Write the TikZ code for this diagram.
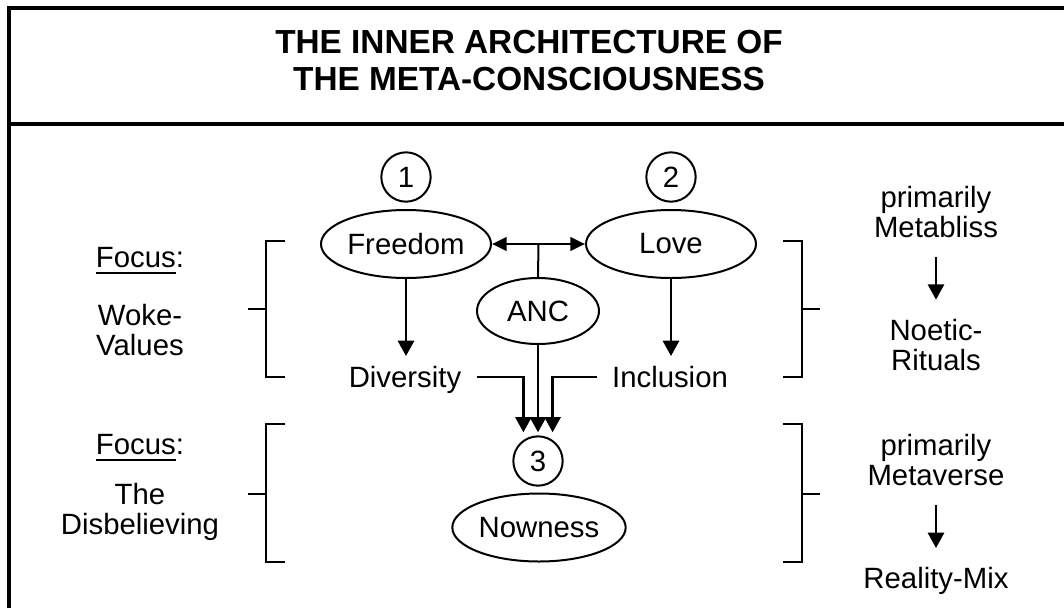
\documentclass[tikz,border=0pt]{standalone}
\usepackage{fontspec}
\setmainfont{Liberation Sans}
\usetikzlibrary{arrows.meta,shapes.geometric,calc}
\newcommand{\ulfocus}{{\setbox0\hbox{Focus}\rlap{\rule[-4.6pt]{\wd0}{1.5pt}}Focus}:}
\begin{document}
\begin{tikzpicture}[x=0.75pt,y=-0.75pt,
  every node/.style={font=\fontsize{22}{22.5}\selectfont, inner sep=0pt},
  titletxt/.style={font=\fontsize{25}{27.5}\selectfont\bfseries, anchor=base},
  oval/.style={draw, ellipse, line width=1.5pt, inner sep=0pt},
  num/.style={draw, circle, line width=1.5pt, minimum size=37pt, inner sep=0pt},
  lbl/.style={align=center},
  one/.style={text height=16pt, text depth=0pt},
  side/.style={one, inner xsep=11.5pt, inner ysep=7.5pt},
  tip/.style={Triangle[length=11.5pt,width=12pt]},
  arr/.style={line width=2.2pt, -{Triangle[length=11.5pt,width=12pt]}},
  dbl/.style={line width=2.2pt, {Triangle[length=11pt,width=10pt]}-{Triangle[length=11pt,width=10pt]}},
  rarr/.style={arr, shorten <=14.5pt, shorten >=14.5pt},
  thinline/.style={line width=1.5pt},
  frame/.style={line width=3pt},
]
\useasboundingbox (0,0) rectangle (1064,608);
% frame
\draw[frame] (9,608) -- (9,8) -- (1064,8);
\draw[frame] (9,124) -- (1064,124);
% title
\node[titletxt] (title1) at (529,53.3) {THE INNER ARCHITECTURE OF};
\node[titletxt] (title2) at (529,90) {THE META-CONSCIOUSNESS};
% central nodes
\node[num] (n1) at (406,177) {1};
\node[num] (n2) at (671,177) {2};
\node[oval, minimum width=127.5pt, minimum height=51pt] (free) at (406,244) {Freedom};
\node[oval, minimum width=127.5pt, minimum height=51pt] (love) at (671,244) {Love};
\node[oval, minimum width=91.5pt, minimum height=49.5pt] (anc) at (538,311) {ANC};
\node[side] (div) at (405,377) {Diversity};
\node[side] (inc) at (670,377) {Inclusion};
\node[num] (n3) at (538,461) {3};
\node[oval, minimum width=130pt, minimum height=51pt] (now) at (539,527.5) {Nowness};
% connectors
\coordinate (mid) at ($(free.east)!0.5!(love.west)$);
\draw[dbl] (free.east) -- (love.west);
\draw[thinline] (mid) -- (anc.north);
\draw[arr] (free.south) -- (free.south |- div.north);
\draw[arr] (love.south) -- (love.south |- inc.north);
\coordinate (inL) at ($(n3.north)+(-14.6,-3)$);
\coordinate (inM) at ($(n3.north)+(0,-3)$);
\coordinate (inR) at ($(n3.north)+(14.6,-3)$);
\draw[arr] (div.east) -| (inL);
\draw[arr] (anc.south) -- (inM);
\draw[arr] (inc.west) -| (inR);
% left labels
\node[one] (lf1) at (140,257) {\ulfocus};
\node[lbl] (lw) at (140,330) {Woke-\\Values};
\node[one] (lf2) at (140,444) {\ulfocus};
\node[lbl] (ld) at (140,512) {The\\Disbelieving};
% right labels
\node[lbl] (r1) at (936,211.7) {primarily\\Metabliss};
\node[lbl] (r2) at (936,345) {Noetic-\\Rituals};
\node[lbl] (r3) at (936,460) {primarily\\Metaverse};
\node[one] (r4) at (936,578.3) {Reality-Mix};
\draw[rarr] (r1.south) -- (r2.north);
\draw[rarr] (r3.south) -- (r4.north);
% brackets
\draw[thinline] (285,240.5) -- (266,240.5) -- (266,376.7) -- (285,376.7);
\draw[thinline] (248,309) -- (266,309);
\draw[thinline] (285,424.3) -- (266,424.3) -- (266,561.5) -- (285,561.5);
\draw[thinline] (248,494) -- (266,494);
\draw[thinline] (783,240.5) -- (802,240.5) -- (802,376.7) -- (783,376.7);
\draw[thinline] (820,309) -- (802,309);
\draw[thinline] (783,424.3) -- (802,424.3) -- (802,561.5) -- (783,561.5);
\draw[thinline] (820,494) -- (802,494);
\end{tikzpicture}
\end{document}
